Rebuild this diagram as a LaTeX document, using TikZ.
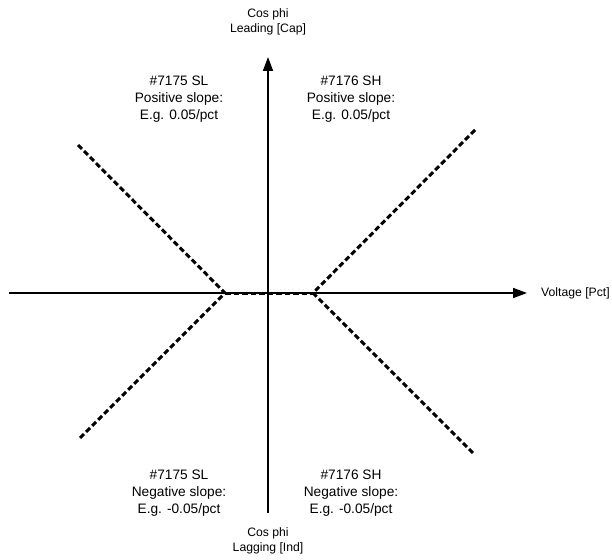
\documentclass[tikz,border=0pt]{standalone}
\usepackage{fontspec}
\setmainfont{Liberation Sans}
\usetikzlibrary{arrows.meta}
\begin{document}
\begin{tikzpicture}[x=1pt,y=-1pt,
  axis/.style={line width=1.6pt,-{Triangle[length=14pt,width=10pt]}},
  curve/.style={line width=3pt,dash pattern=on 5.5pt off 3pt,line join=miter},
  qlabel/.style={align=center,font=\fontsize{13.7}{17}\selectfont,inner sep=0pt},
  alabel/.style={align=center,font=\fontsize{12.2}{15}\selectfont,inner sep=0pt}]
\useasboundingbox (0,0) rectangle (612,559);
% axes
\coordinate (xl) at (9,293);
\coordinate (xr) at (527,293);
\coordinate (yb) at (268,513);
\coordinate (yt) at (268,57);
\draw[axis] (xl) -- (xr);
\draw[axis] (yb) -- (yt);
% characteristic
\coordinate (ul) at (78,145);
\coordinate (ll) at (78,440);
\coordinate (ur) at (475,130);
\coordinate (lr) at (475,455);
\coordinate (kl) at (225,293);
\coordinate (kr) at (313,293);
\draw[curve] (ul) -- (kl) -- (ll);
\draw[curve] (ur) -- (kr) -- (lr);
\draw[curve] (kl) -- (kr);
% labels
\node[alabel] (top) at (268,22) {Cos phi\\Leading [Cap]};
\node[alabel] (bot) at (268,541) {Cos phi\\Lagging [Ind]};
\node[alabel,anchor=west] (vol) at (541,293) {Voltage [Pct]};
\node[qlabel] (q2) at (179,99) {\#7175 SL\\Positive slope:\\E.g. 0.05/pct};
\node[qlabel] (q1) at (351,99) {\#7176 SH\\Positive slope:\\E.g. 0.05/pct};
\node[qlabel] (q3) at (179,493) {\#7175 SL\\Negative slope:\\E.g. -0.05/pct};
\node[qlabel] (q4) at (351,493) {\#7176 SH\\Negative slope:\\E.g. -0.05/pct};
\end{tikzpicture}
\end{document}
